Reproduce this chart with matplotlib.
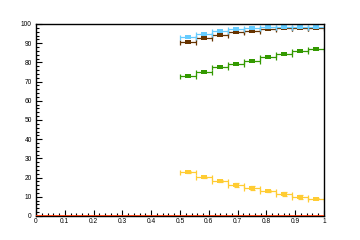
import numpy as np
import matplotlib
matplotlib.use("Agg")
import matplotlib.pyplot as plt
from matplotlib.ticker import MultipleLocator, FixedFormatter, FixedLocator

# 9 bins from 0.5 to 1.0
bin_edges = np.linspace(0.5, 1.0, 10)
centers = 0.5 * (bin_edges[:-1] + bin_edges[1:])
half_w = 0.5 * (bin_edges[1:] - bin_edges[:-1])

cyan_vals = [93.0, 95.0, 96.2, 97.5, 98.1, 98.3, 98.6, 98.6, 98.6]
brown_vals = [90.4, 92.7, 94.4, 95.7, 96.4, 97.4, 97.9, 97.9, 97.9]
green_vals = [73.1, 75.2, 77.4, 79.2, 80.7, 82.8, 84.4, 85.8, 86.8]
yellow_vals = [22.9, 20.1, 18.2, 16.1, 14.4, 13.0, 11.3, 9.7, 8.9]
yellow_errs = [0.3, 0.3, 0.3, 1.1, 1.1, 0.3, 1.1, 1.1, 0.3]
red_level = 0.0

x_ticks = [0, 0.1, 0.2, 0.3, 0.4, 0.5, 0.6, 0.7, 0.8, 0.9, 1.0]
x_labels = ["0", "0.1", "0.2", "0.3", "0.4", "0.5", "0.6", "0.7", "0.8", "0.9", "1"]
y_ticks = [0, 10, 20, 30, 40, 50, 60, 70, 80, 90, 100]
y_labels = [str(v) for v in y_ticks]

plt.rcParams['font.family'] = ['Liberation Sans', 'DejaVu Sans']

fig = plt.figure(figsize=(3.6, 2.4), dpi=100)
ax = fig.add_axes([0.1, 0.1, 0.8, 0.8])

rect = [(-1, -0.55), (1, -0.55), (1, 0.55), (-1, 0.55)]

ax.axhline(red_level, color='#ff3300', lw=1.2, zorder=5)

series = [
    (brown_vals, None, '#663300'),
    (cyan_vals, None, '#66ccff'),
    (green_vals, None, '#339900'),
    (yellow_vals, yellow_errs, '#ffcc33'),
]
for vals, errs, col in series:
    ax.errorbar(centers, vals, xerr=half_w, yerr=errs, fmt='none',
                ecolor=col, elinewidth=0.9, capsize=1.8, capthick=0.9)
    ax.plot(centers, vals, linestyle='none', marker=rect, markersize=4.3,
            color=col, markeredgewidth=0)

ax.set_xlim(0, 1)
ax.set_ylim(0, 100)
ax.xaxis.set_major_locator(FixedLocator(x_ticks))
ax.xaxis.set_major_formatter(FixedFormatter(x_labels))
ax.yaxis.set_major_locator(FixedLocator(y_ticks))
ax.yaxis.set_major_formatter(FixedFormatter(y_labels))
ax.xaxis.set_minor_locator(MultipleLocator(0.02))
ax.yaxis.set_minor_locator(MultipleLocator(2))
ax.tick_params(which='both', direction='in', top=False, right=False,
               width=0.8, color='black')
ax.tick_params(which='major', length=4, labelsize=4.8)
ax.tick_params(which='minor', length=2)
ax.tick_params(axis='x', pad=1.5)
ax.tick_params(axis='y', pad=3.0)
for s in ax.spines.values():
    s.set_linewidth(1.0)

fig.savefig("out.png", dpi=100)
